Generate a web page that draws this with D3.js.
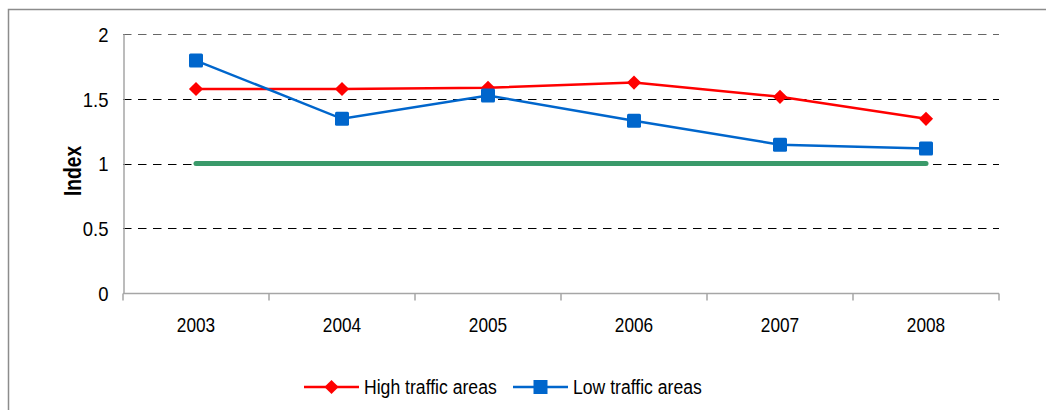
<!DOCTYPE html>
<html lang="en">
<head>
  <meta charset="utf-8">
  <script src="https://d3js.org/d3.v7.min.js"></script>
  <style>
    body { margin: 0; background: #fff; }
    text { font-family: "Liberation Sans", Arial, sans-serif; fill: #000; }
  </style>
</head>
<body>
<svg width="1046" height="410"></svg>
<script>
var years = ["2003", "2004", "2005", "2006", "2007", "2008"];
var highTraffic = [1.575, 1.575, 1.585, 1.625, 1.515, 1.345];
var lowTraffic = [1.795, 1.345, 1.525, 1.33, 1.145, 1.115];
var baseline = [1, 1, 1, 1, 1, 1];
var yTicks = [0, 0.5, 1, 1.5, 2];

var svg = d3.select("svg");

// squeeze text horizontally, the original uses a narrow face
function condense(sel, f) {
  sel.each(function() {
    var w = this.getComputedTextLength();
    d3.select(this).attr("textLength", w * f).attr("lengthAdjust", "spacingAndGlyphs");
  });
}

// outer chart border (only top and left visible)
svg.append("path")
    .attr("d", "M8.5,410V9.5H1046")
    .attr("fill", "none")
    .attr("stroke", "#8c8c8c")
    .attr("stroke-width", 1.5);

var plotLeft = 123, plotRight = 999, plotTop = 34, plotBottom = 293;

var x = d3.scaleBand().domain(years).range([plotLeft, plotRight]);
var y = d3.scaleLinear().domain([0, 2]).range([plotBottom, plotTop]);

/* gridlines */
svg.append("g")
  .selectAll("line")
  .data(yTicks.filter(function(d) { return d > 0; }))
  .enter().append("line")
    .attr("x1", plotLeft).attr("x2", plotRight)
    .attr("y1", function(d) { return Math.round(y(d)) + 0.5; })
    .attr("y2", function(d) { return Math.round(y(d)) + 0.5; })
    .attr("stroke", function(d) { return d == 2 ? "#666" : "#000"; })
    .attr("stroke-width", 1)
    .attr("stroke-dasharray", "8.5,6.5");

/* y axis */
var yAxis = svg.append("g")
    .attr("transform", "translate(" + (plotLeft + 0.5) + ",0)")
    .call(d3.axisLeft(y).tickValues(yTicks).tickSize(0).tickPadding(15)
      .tickFormat(function(d) { return d; }));
yAxis.select(".domain").attr("stroke", "#a6a6a6").attr("stroke-width", 1.5);
yAxis.selectAll("text").style("font-size", "21px").attr("dy", "0.35em").call(condense, 0.88);

/* x axis */
var xAxis = svg.append("g")
    .attr("transform", "translate(0," + (plotBottom + 0.5) + ")");
xAxis.append("line")
    .attr("x1", plotLeft).attr("x2", plotRight)
    .attr("stroke", "#a6a6a6").attr("stroke-width", 1.5);
xAxis.selectAll(".tk")
  .data(years.concat(["end"]))
  .enter().append("line")
    .attr("x1", function(d, i) { return plotLeft + i * x.bandwidth(); })
    .attr("x2", function(d, i) { return plotLeft + i * x.bandwidth(); })
    .attr("y1", 0).attr("y2", 7)
    .attr("stroke", "#a6a6a6").attr("stroke-width", 1.5);
xAxis.selectAll("text")
  .data(years)
  .enter().append("text")
    .attr("x", function(d) { return x(d) + x.bandwidth() / 2; })
    .attr("y", 38)
    .attr("text-anchor", "middle")
    .style("font-size", "21px")
    .text(function(d) { return d; })
    .call(condense, 0.82);

svg.append("text")
    .attr("transform", "translate(81,171) rotate(-90)")
    .attr("text-anchor", "middle")
    .style("font-size", "24px")
    .style("font-weight", "bold")
    .text("Index")
    .call(condense, 0.8);

function cx(i) { return x(years[i]) + x.bandwidth() / 2; }

var line = d3.line()
    .x(function(d, i) { return cx(i); })
    .y(function(d) { return y(d); });

svg.append("path")
    .datum(baseline)
    .attr("d", line)
    .attr("fill", "none")
    .attr("stroke", "#3a9a6a")
    .attr("stroke-width", 5)
    .attr("stroke-linecap", "round");

svg.append("path")
    .datum(highTraffic)
    .attr("d", line)
    .attr("fill", "none")
    .attr("stroke", "#ff0000")
    .attr("stroke-width", 2.5);

svg.append("path")
    .datum(lowTraffic)
    .attr("d", line)
    .attr("fill", "none")
    .attr("stroke", "#0066cc")
    .attr("stroke-width", 2.5);

var diamond = d3.symbol().type(d3.symbolSquare).size(100);

svg.append("g").selectAll("path")
  .data(highTraffic)
  .enter().append("path")
    .attr("d", diamond)
    .attr("transform", function(d, i) { return "translate(" + cx(i) + "," + y(d) + ") rotate(45)"; })
    .attr("fill", "#ff0000");

svg.append("g").selectAll("rect")
  .data(lowTraffic)
  .enter().append("rect")
    .attr("x", function(d, i) { return cx(i) - 7; })
    .attr("y", function(d) { return y(d) - 7; })
    .attr("width", 14).attr("height", 14)
    .attr("rx", 1.5)
    .attr("fill", "#0066cc");

/* legend */
var legend = [
  { name: "High traffic areas", color: "#ff0000", x: 304, shape: "diamond" },
  { name: "Low traffic areas", color: "#0066cc", x: 513, shape: "square" }
];
var lg = svg.append("g").selectAll("g")
  .data(legend)
  .enter().append("g")
    .attr("transform", function(d) { return "translate(" + d.x + ",387)"; });
lg.append("line")
    .attr("x1", 0).attr("x2", 55)
    .attr("stroke", function(d) { return d.color; })
    .attr("stroke-width", 2.5);
lg.filter(function(d) { return d.shape == "diamond"; }).append("path")
    .attr("d", diamond)
    .attr("transform", "translate(27.5,0) rotate(45)")
    .attr("fill", function(d) { return d.color; });
lg.filter(function(d) { return d.shape == "square"; }).append("rect")
    .attr("x", 20.5).attr("y", -7).attr("width", 14).attr("height", 14)
    .attr("fill", function(d) { return d.color; });
lg.append("text")
    .attr("x", 60).attr("y", 7)
    .style("font-size", "20px")
    .text(function(d) { return d.name; })
    .call(condense, 0.88);
</script>
</body>
</html>
